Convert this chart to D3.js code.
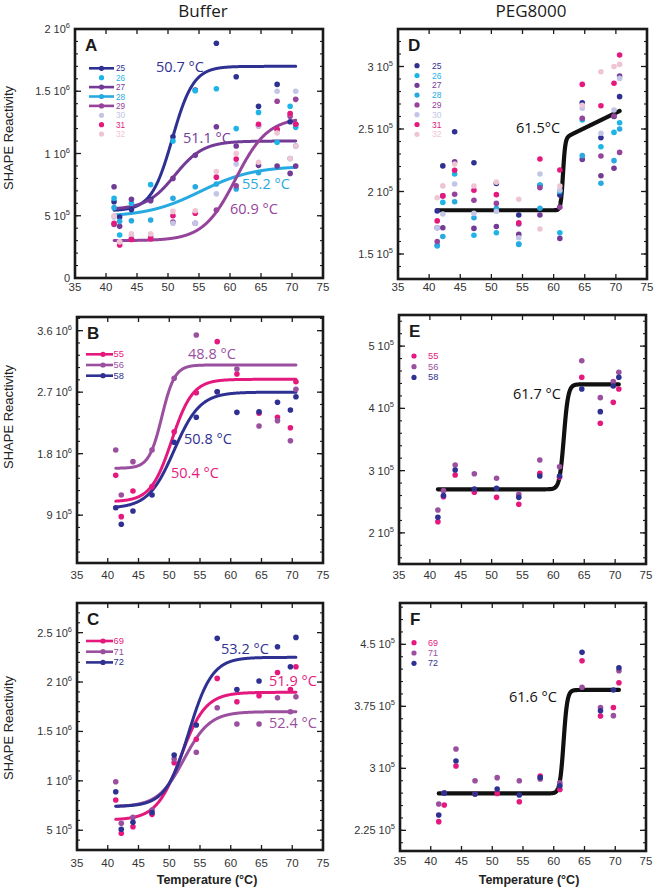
<!DOCTYPE html>
<html><head><meta charset="utf-8">
<script src="https://cdn.jsdelivr.net/npm/d3@7"></script>
<style>body{margin:0;background:#fff}svg{display:block}</style>
</head><body>
<svg id="chart" width="656" height="889"></svg>
<script>
// ---------------- DATA ----------------
const temps = [41.3, 42.2, 44.1, 47.2, 50.8, 54.4, 57.8, 61.0, 64.6, 67.6, 69.7, 70.6];
const xTicks = [35, 40, 45, 50, 55, 60, 65, 70, 75];

// Panel A (Buffer) – SHAPE reactivity
const seriesA = ["25","26","27","28","29","30","31","32"];
const a25 = [0.613e6,0.49e6,0.55e6,0.63e6,1.135e6,1.51e6,1.885e6,1.617e6,1.38e6,1.555e6,1.255e6,1.235e6];
const a26 = [0.64e6,0.345e6,0.60e6,0.75e6,1.10e6,1.505e6,1.52e6,1.20e6,1.33e6,1.09e6,1.38e6,1.21e6];
const a27 = [0.733e6,0.415e6,0.632e6,0.62e6,0.80e6,0.985e6,1.215e6,1.06e6,0.905e6,0.90e6,0.84e6,0.90e6];
const a28 = [0.565e6,0.455e6,0.46e6,0.466e6,0.64e6,0.733e6,0.755e6,0.715e6,0.845e6,1.19e6,0.96e6,1.06e6];
const a29 = [0.43e6,0.29e6,0.315e6,0.33e6,0.45e6,0.44e6,0.546e6,0.74e6,1.22e6,1.42e6,1.30e6,1.435e6];
const a30 = [0.49e6,0.29e6,0.34e6,0.35e6,0.44e6,0.44e6,0.676e6,0.915e6,1.22e6,1.50e6,1.32e6,1.50e6];
const a31 = [0.44e6,0.265e6,0.31e6,0.315e6,0.50e6,0.52e6,0.81e6,0.955e6,1.235e6,1.195e6,1.32e6,1.235e6];
const a32 = [0.50e6,0.29e6,0.355e6,0.355e6,0.535e6,0.54e6,0.855e6,1.0e6,0.93e6,1.165e6,0.96e6,1.06e6];
const yTicksA = [0, 5e5, 1e6, 1.5e6, 2e6];
// fitted melting curves: [series, bottom, top, Tm, width]
const fitA = [["25",0.54e6,1.70e6,50.7,1.7],["27",0.55e6,1.10e6,51.1,2.3],["28",0.49e6,0.90e6,55.2,4.3],["29",0.30e6,1.29e6,60.9,2.6]];
const tmLabelsA = ["50.7 °C","51.1 °C","55.2 °C","60.9 °C"];

// Panel D (PEG8000)
const d25 = [1.845e5,2.205e5,2.478e5,2.23e5,2.065e5,1.812e5,2.05e5,1.972e5,2.71e5,2.43e5,2.60e5,2.759e5];
const d26 = [1.565e5,1.913e5,2.14e5,1.65e5,1.67e5,1.577e5,2.052e5,1.67e5,2.572e5,2.358e5,2.473e5,2.55e5];
const d27 = [1.71e5,1.71e5,2.238e5,1.705e5,1.72e5,1.657e5,1.812e5,1.625e5,2.257e5,2.126e5,2.186e5,2.924e5];
const d28 = [1.57e5,1.64e5,1.918e5,1.79e5,1.865e5,1.58e5,1.866e5,2.00e5,2.287e5,2.066e5,2.247e5,2.50e5];
const d29 = [1.60e5,1.965e5,1.978e5,1.93e5,1.905e5,1.74e5,2.03e5,1.874e5,2.586e5,2.284e5,2.604e5,2.313e5];
const d30 = [1.71e5,1.82e5,2.06e5,1.825e5,1.84e5,1.63e5,2.14e5,2.012e5,2.666e5,2.466e5,2.652e5,2.905e5];
const d31 = [1.765e5,1.965e5,2.17e5,2.01e5,1.975e5,1.75e5,2.26e5,2.172e5,2.857e5,2.686e5,2.866e5,3.092e5];
const d32 = [1.95e5,2.045e5,2.22e5,2.044e5,2.075e5,1.938e5,1.70e5,2.044e5,2.69e5,2.958e5,3.0e5,3.017e5];
const yTicksD = [1.5e5, 2e5, 2.5e5, 3e5];
// [bottom, top at Tm, Tm, width, post-transition slope per °C]
const fitD = [1.85e5, 2.423e5, 61.5, 0.18, 0.0243e5];
const tmLabelD = "61.5°C";

// Panel B (Buffer)
const seriesB = ["55","56","58"];
const b55 = [1.483e6,0.878e6,1.254e6,1.317e6,2.121e6,2.692e6,3.439e6,2.966e6,2.391e6,2.332e6,2.18e6,2.853e6];
const b56 = [1.854e6,1.195e6,1.683e6,1.854e6,2.903e6,3.537e6,2.707e6,3.039e6,2.205e6,2.283e6,1.99e6,2.741e6];
const b58 = [1.009e6,0.766e6,0.961e6,1.195e6,1.966e6,2.332e6,2.707e6,2.405e6,2.414e6,2.552e6,2.439e6,2.634e6];
const yTicksB = [9e5, 1.8e6, 2.7e6, 3.6e6];
const fitB = [["55",1.097e6,2.888e6,50.4,1.7],["56",1.586e6,3.098e6,48.8,1.05],["58",1.0e6,2.70e6,50.8,2.1]];
const tmLabelsB = ["50.4 °C","48.8 °C","50.8 °C"];

// Panel E (PEG8000)
const e55 = [2.18e5,2.582e5,2.93e5,2.652e5,2.571e5,2.46e5,2.957e5,2.892e5,4.499e5,3.76e5,4.097e5,4.311e5];
const e56 = [2.367e5,2.678e5,3.09e5,2.95e5,2.877e5,2.62e5,3.17e5,3.063e5,4.766e5,4.172e5,4.429e5,4.58e5];
const e58 = [2.25e5,2.60e5,3.01e5,2.705e5,2.716e5,2.571e5,2.914e5,2.914e5,4.311e5,3.947e5,4.36e5,4.499e5];
const yTicksE = [2e5, 3e5, 4e5, 5e5];
const fitE = [2.70e5, 4.386e5, 61.7, 0.35, 0];
const tmLabelE = "61.7 °C";

// Panel C (Buffer)
const seriesC = ["69","71","72"];
const c69 = [0.806e6,0.469e6,0.536e6,0.661e6,1.183e6,1.42e6,2.037e6,1.80e6,1.861e6,2.097e6,1.925e6,2.155e6];
const c71 = [0.991e6,0.57e6,0.63e6,0.705e6,1.22e6,1.289e6,1.74e6,1.575e6,1.575e6,1.84e6,1.70e6,1.85e6];
const c72 = [0.89e6,0.51e6,0.58e6,0.68e6,1.261e6,1.565e6,2.442e6,1.925e6,2.01e6,2.357e6,2.155e6,2.452e6];
const yTicksC = [5e5, 1e6, 1.5e6, 2e6, 2.5e6];
const fitC = [["69",0.604e6,1.896e6,51.9,2.0],["71",0.738e6,1.70e6,52.4,2.1],["72",0.74e6,2.25e6,53.2,1.9]];
const tmLabelsC = ["51.9 °C","52.4 °C","53.2 °C"];

// Panel F (PEG8000)
const f69 = [2.355e5,2.556e5,3.028e5,2.69e5,2.697e5,2.595e5,2.907e5,2.745e5,4.302e5,3.633e5,3.736e5,4.035e5];
const f71 = [2.569e5,2.705e5,3.234e5,2.85e5,2.887e5,2.85e5,2.871e5,2.826e5,3.98e5,3.736e5,3.637e5,4.18e5];
const f72 = [2.435e5,2.70e5,3.089e5,2.69e5,2.75e5,2.677e5,2.89e5,2.79e5,4.403e5,3.697e5,3.948e5,4.217e5];
const yTicksF = [2.25e5, 3e5, 3.75e5, 4.5e5];
const fitF = [2.697e5, 3.948e5, 61.6, 0.3, 0];
const tmLabelF = "61.6 °C";

// ---------------- STYLE ----------------
const colors = {"25":"#2e3192","26":"#1db5e8","27":"#733b96","28":"#27aae1","29":"#95439b","30":"#c3c5e6","31":"#e5197d","32":"#efc5d4",
  "55":"#e5197d","56":"#9a4f9f","58":"#2e3192","69":"#e5197d","71":"#9a4f9f","72":"#2e3192"};
const AX = "'Liberation Sans', Arial, sans-serif";
const TM = "'Open Sans', 'Noto Sans', sans-serif";

const svg = d3.select("#chart");

function sigmoid(T, b, t, tm, w, s) {
  const top = t + (s || 0) * (T - tm);
  return b + (top - b) / (1 + Math.exp((tm - T) / w));
}

function drawPanel(p) {
  const g = svg.append("g");
  const x = d3.scaleLinear().domain([35, 75]).range(p.px);
  const y = d3.scaleLinear().domain(p.yDomain).range([p.py[1], p.py[0]]);
  const [L, R] = p.px, [T, B] = p.py;

  // fits
  const tGrid = d3.range(temps[0], temps[temps.length - 1] + 0.0001, 0.05);
  const line = d3.line().x(d => x(d[0])).y(d => y(d[1]));
  p.fits.forEach(f => {
    g.append("path").datum(tGrid.map(t => [t, sigmoid(t, f.b, f.t, f.tm, f.w, f.s)]))
      .attr("d", line).attr("fill", "none").attr("stroke", f.color)
      .attr("stroke-width", f.width).attr("stroke-linejoin", "round").attr("stroke-linecap", "round");
  });

  // points
  p.series.forEach(s => {
    g.append("g").selectAll("circle").data(s.values).join("circle")
      .attr("cx", (d, i) => x(temps[i])).attr("cy", d => y(d)).attr("r", 2.8)
      .attr("fill", colors[s.name]);
  });

  // frame
  g.append("rect").attr("x", L).attr("y", T).attr("width", R - L).attr("height", B - T)
    .attr("fill", "none").attr("stroke", "#1a1a1a").attr("stroke-width", 2.6);

  // x ticks
  xTicks.forEach(v => {
    const xx = x(v);
    g.append("line").attr("x1", xx).attr("x2", xx).attr("y1", B).attr("y2", B - 5).attr("stroke", "#1a1a1a").attr("stroke-width", 1.3);
    g.append("line").attr("x1", xx).attr("x2", xx).attr("y1", T).attr("y2", T + 5).attr("stroke", "#1a1a1a").attr("stroke-width", 1.3);
    g.append("text").attr("x", xx).attr("y", B + p.xLabOff).attr("text-anchor", "middle")
      .attr("font-family", AX).attr("font-size", 11.5).attr("fill", "#333").text(v);
  });
  // y minor ticks
  const step = p.minor, d0 = p.yDomain[0], d1 = p.yDomain[1];
  for (let k = Math.ceil(d0 / step - 1e-6); k * step <= d1 + 1e-6; k++) {
    const yy = y(k * step);
    g.append("line").attr("x1", L).attr("x2", L + 3).attr("y1", yy).attr("y2", yy).attr("stroke", "#1a1a1a").attr("stroke-width", 1.1);
    g.append("line").attr("x1", R).attr("x2", R - 3).attr("y1", yy).attr("y2", yy).attr("stroke", "#1a1a1a").attr("stroke-width", 1.1);
  }
  // y major ticks + labels
  p.yTicks.forEach(v => {
    const yy = y(v);
    g.append("line").attr("x1", L).attr("x2", L + 6).attr("y1", yy).attr("y2", yy).attr("stroke", "#1a1a1a").attr("stroke-width", 1.3);
    g.append("line").attr("x1", R).attr("x2", R - 6).attr("y1", yy).attr("y2", yy).attr("stroke", "#1a1a1a").attr("stroke-width", 1.3);
    const t = g.append("text").attr("x", L - 5).attr("y", yy + 4).attr("text-anchor", "end")
      .attr("font-family", AX).attr("font-size", 11).attr("fill", "#333");
    if (v === 0) { t.text("0"); }
    else {
      const e = Math.floor(Math.log10(v) + 1e-9);
      const m = +(v / Math.pow(10, e)).toFixed(3);
      t.append("tspan").text(m + " 10");
      t.append("tspan").attr("dy", -5).attr("font-size", 7.5).text(e);
    }
  });

  // panel letter
  g.append("text").attr("x", L + 10).attr("y", T + 22).attr("font-family", AX).attr("font-weight", "bold")
    .attr("font-size", 17).attr("fill", "#1a1a1a").text(p.letter);

  // legend
  const lg = p.legend;
  p.series.forEach((s, i) => {
    const yy = lg.y0 + i * lg.dy;
    const c = colors[s.name];
    if (lg.lines && lg.lines.includes(s.name)) {
      g.append("line").attr("x1", lg.lx0).attr("x2", lg.lx1).attr("y1", yy).attr("y2", yy)
        .attr("stroke", c).attr("stroke-width", 2.6);
    }
    g.append("circle").attr("cx", lg.dotX).attr("cy", yy).attr("r", 2.6).attr("fill", c);
    g.append("text").attr("x", lg.textX).attr("y", yy + 3).attr("font-family", AX).attr("font-size", lg.fs)
      .attr("fill", c).text(s.name);
  });

  // Tm labels
  p.tm.forEach(t => {
    g.append("text").attr("x", t.x).attr("y", t.y).attr("font-family", TM).attr("font-size", 14.5)
      .attr("fill", t.color).text(t.text);
  });
}

const sA = seriesA.map((n, i) => ({name: n, values: [a25,a26,a27,a28,a29,a30,a31,a32][i]}));
const sD = seriesA.map((n, i) => ({name: n, values: [d25,d26,d27,d28,d29,d30,d31,d32][i]}));
const sB = seriesB.map((n, i) => ({name: n, values: [b55,b56,b58][i]}));
const sE = seriesB.map((n, i) => ({name: n, values: [e55,e56,e58][i]}));
const sC = seriesC.map((n, i) => ({name: n, values: [c69,c71,c72][i]}));
const sF = seriesC.map((n, i) => ({name: n, values: [f69,f71,f72][i]}));
const mkFits = arr => arr.map(f => ({color: colors[f[0]], b: f[1], t: f[2], tm: f[3], w: f[4], s: 0, width: 3}));
const blackFit = f => [{color: "#111", b: f[0], t: f[1], tm: f[2], w: f[3], s: f[4], width: 4.2}];

drawPanel({letter: "A", px: [75, 323], py: [29, 278], yDomain: [0, 2e6], yTicks: yTicksA, minor: 1e5, xLabOff: 13,
  series: sA, fits: mkFits(fitA),
  legend: {lines: ["25","27","28","29"], lx0: 89, lx1: 114, dotX: 101.5, textX: 116, y0: 68.3, dy: 9.4, fs: 8.2},
  tm: [{text: tmLabelsA[0], x: 156, y: 72, color: colors["25"]}, {text: tmLabelsA[1], x: 183, y: 143, color: colors["27"]},
       {text: tmLabelsA[2], x: 242, y: 189, color: colors["28"]}, {text: tmLabelsA[3], x: 230, y: 214, color: colors["29"]}]});

drawPanel({letter: "D", px: [398, 647], py: [29, 279], yDomain: [1.3e5, 3.3e5], yTicks: yTicksD, minor: 1e4, xLabOff: 12,
  series: sD, fits: blackFit(fitD),
  legend: {lines: [], dotX: 417, textX: 432, y0: 65.7, dy: 9.8, fs: 8.5},
  tm: [{text: tmLabelD, x: 516, y: 133, color: "#111"}]});

drawPanel({letter: "B", px: [77, 323], py: [317, 563], yDomain: [2e5, 3.8e6], yTicks: yTicksB, minor: 1.8e5, xLabOff: 16,
  series: sB, fits: mkFits(fitB),
  legend: {lines: seriesB, lx0: 86, lx1: 113, dotX: 103, textX: 113.5, y0: 354.3, dy: 10.7, fs: 9.3},
  tm: [{text: tmLabelsB[1], x: 188, y: 359, color: colors["56"]}, {text: tmLabelsB[2], x: 184, y: 444, color: colors["58"]},
       {text: tmLabelsB[0], x: 171, y: 478, color: colors["55"]}]});

drawPanel({letter: "E", px: [399, 646], py: [315, 564], yDomain: [1.5e5, 5.5e5], yTicks: yTicksE, minor: 2e4, xLabOff: 15,
  series: sE, fits: blackFit(fitE),
  legend: {lines: [], dotX: 414, textX: 428, y0: 356, dy: 10.7, fs: 9.3},
  tm: [{text: tmLabelE, x: 513, y: 399, color: "#111"}]});

drawPanel({letter: "C", px: [77, 323], py: [603, 850], yDomain: [3e5, 2.8e6], yTicks: yTicksC, minor: 1e5, xLabOff: 16.5,
  series: sC, fits: mkFits(fitC),
  legend: {lines: seriesC, lx0: 86, lx1: 113, dotX: 103, textX: 113.5, y0: 641, dy: 10.7, fs: 9.3},
  tm: [{text: tmLabelsC[2], x: 221, y: 654, color: colors["72"]}, {text: tmLabelsC[0], x: 269, y: 686, color: colors["69"]},
       {text: tmLabelsC[1], x: 269, y: 728, color: colors["71"]}]});

drawPanel({letter: "F", px: [400, 646], py: [603, 851], yDomain: [2e5, 5e5], yTicks: yTicksF, minor: 1.5e4, xLabOff: 13.5,
  series: sF, fits: blackFit(fitF),
  legend: {lines: [], dotX: 414, textX: 428, y0: 642.7, dy: 10.3, fs: 9},
  tm: [{text: tmLabelF, x: 509, y: 702, color: "#111"}]});

// titles & axis labels
svg.append("text").attr("x", 203).attr("y", 17).attr("text-anchor", "middle").attr("font-family", TM)
  .attr("font-size", 17).attr("fill", "#1a1a1a").text("Buffer");
svg.append("text").attr("x", 531).attr("y", 17).attr("text-anchor", "middle").attr("font-family", TM)
  .attr("font-size", 17).attr("fill", "#1a1a1a").text("PEG8000");
[138, 417, 728].forEach(cy => {
  svg.append("text").attr("transform", `translate(13,${cy}) rotate(-90)`).attr("text-anchor", "middle")
    .attr("font-family", AX).attr("font-size", 13).attr("fill", "#222").text("SHAPE Reactivity");
});
[207, 529].forEach(cx => {
  svg.append("text").attr("x", cx).attr("y", 884).attr("text-anchor", "middle").attr("font-family", AX)
    .attr("font-weight", "bold").attr("font-size", 12.5).attr("fill", "#222").text("Temperature (°C)");
});
</script>
</body></html>
